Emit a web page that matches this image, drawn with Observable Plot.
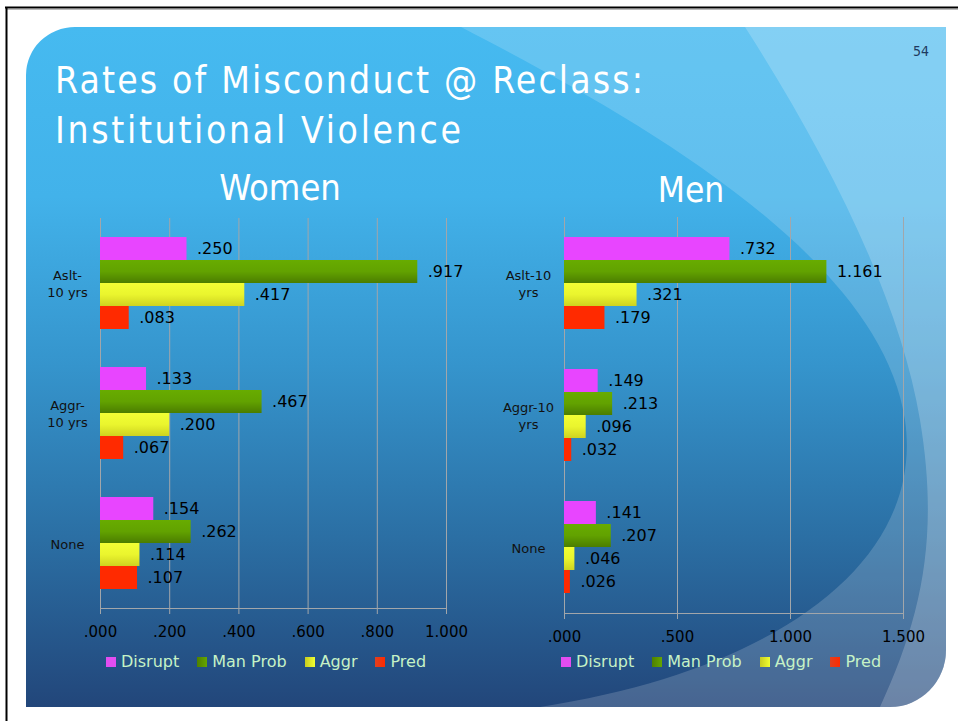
<!DOCTYPE html>
<html>
<head>
<meta charset="utf-8">
<script src="https://cdn.jsdelivr.net/npm/d3@7"></script>
<script src="https://cdn.jsdelivr.net/npm/@observablehq/plot@0.6"></script>
<style>
  html, body { margin: 0; padding: 0; background: #fff; }
  #page { position: relative; width: 958px; height: 721px; overflow: hidden; }
  #bg { position: absolute; left: 0; top: 0; }
  .chart { position: absolute; top: 200px; }
  .legend { position: absolute; top: 652px; display: flex; align-items: center; gap: 18px;
            font-family: "DejaVu Sans", sans-serif; font-size: 16px; color: #C6F2C6; white-space: nowrap; }
  .legend .item { display: flex; align-items: center; }
  .legend .sw { width: 10px; height: 10px; margin-right: 5px; }
</style>
</head>
<body>
<div id="page">
  <svg id="bg" width="958" height="721">
    <defs>
      <linearGradient id="slideGrad" x1="0" y1="0" x2="0" y2="1">
        <stop offset="0" stop-color="#46BAF0"/>
        <stop offset="0.25" stop-color="#42B2EA"/>
        <stop offset="0.5" stop-color="#3594CC"/>
        <stop offset="0.75" stop-color="#2B6FA4"/>
        <stop offset="1" stop-color="#22467A"/>
      </linearGradient>
      <linearGradient id="gradGreen" x1="0" y1="0" x2="0" y2="1">
        <stop offset="0" stop-color="#68AC00"/>
        <stop offset="0.5" stop-color="#62A200"/>
        <stop offset="1" stop-color="#4B7D00"/>
      </linearGradient>
      <linearGradient id="gradYellow" x1="0" y1="0" x2="0" y2="1">
        <stop offset="0" stop-color="#F2FF34"/>
        <stop offset="0.5" stop-color="#EAF52E"/>
        <stop offset="1" stop-color="#CFD320"/>
      </linearGradient>
      <clipPath id="slideClip">
        <path d="M26,75 A49,48 0 0 1 75,27 L946,27 L946,650 A56,57 0 0 1 890,707 L26,707 Z"/>
      </clipPath>
    </defs>
    <rect width="958" height="721" fill="#ffffff"/>
    <line x1="5" y1="7.5" x2="958" y2="7.5" stroke="#000" stroke-width="2"/>
    <line x1="7" y1="9.5" x2="958" y2="9.5" stroke="#bbb" stroke-width="1"/>
    <line x1="6.5" y1="7" x2="6.5" y2="721" stroke="#000" stroke-width="2"/>
    <g clip-path="url(#slideClip)">
      <rect x="26" y="27" width="920" height="680" fill="url(#slideGrad)"/>
      <path d="M461,27 C620,110 880,250 905,420 C925,560 780,670 540,707 L946,707 L946,27 Z" fill="#ffffff" fill-opacity="0.17"/>
      <path d="M745,27 C830,160 900,300 920,420 C940,540 920,620 880,707 L946,707 L946,27 Z" fill="#ffffff" fill-opacity="0.2"/>
    </g>
    <g font-family="'DejaVu Sans Condensed', 'DejaVu Sans', sans-serif" style="font-stretch: condensed" fill="#ffffff">
      <text x="55" y="93" font-size="37" textLength="588" lengthAdjust="spacing">Rates of Misconduct @ Reclass:</text>
      <text x="55" y="143" font-size="37" textLength="406" lengthAdjust="spacing">Institutional Violence</text>
      <text x="280" y="200" font-size="36" text-anchor="middle">Women</text>
      <text x="691" y="202" font-size="35" text-anchor="middle">Men</text>
      <text x="921" y="56" font-size="14" text-anchor="middle" fill="#1E3A5F">54</text>
    </g>
  </svg>
  <div id="women" class="chart" style="left:0px"></div>
  <div id="men" class="chart" style="left:470px"></div>
  <div id="legendWomen" class="legend" style="left:106px"></div>
  <div id="legendMen" class="legend" style="left:561px"></div>
</div>
<script>
// ---- data ----
const series = ["Disrupt", "Man Prob", "Aggr", "Pred"];
const womenCategories = ["Aslt-\n10 yrs", "Aggr-\n10 yrs", "None"];
const menCategories = ["Aslt-10\nyrs", "Aggr-10\nyrs", "None"];

const womenDisrupt = [0.250, 0.133, 0.154];
const womenManProb = [0.917, 0.467, 0.262];
const womenAggr    = [0.417, 0.200, 0.114];
const womenPred    = [0.083, 0.067, 0.107];

const menDisrupt = [0.732, 0.149, 0.141];
const menManProb = [1.161, 0.213, 0.207];
const menAggr    = [0.321, 0.096, 0.046];
const menPred    = [0.179, 0.032, 0.026];

const womenTicks = [0, 0.2, 0.4, 0.6, 0.8, 1.0];
const menTicks = [0, 0.5, 1.0, 1.5];

const seriesColors = ["#E845FF", "url(#gradGreen)", "url(#gradYellow)", "#FF2A00"];
const legendSwatches = ["#E24DF0", "linear-gradient(90deg,#4E8000,#66A600)", "linear-gradient(90deg,#C8CC20,#F0FF30)", "linear-gradient(90deg,#E04020,#FF2A00)"];

// ---- helpers ----
const fmt = v => d3.format(".3f")(v).replace(/^0\./, ".");
function rows(categories, cols) {
  const out = [];
  categories.forEach((c, i) => {
    series.forEach((s, j) => out.push({cat: c, series: s, value: cols[j][i]}));
  });
  return out;
}

function chart({data, categories, ticks, width, height, marginLeft, marginRight, marginTop, marginBottom, labelPad}) {
  const grid = "#A2A6AA";
  return Plot.plot({
    width, height, marginLeft, marginRight, marginTop, marginBottom,
    style: {background: "transparent", overflow: "visible", fontFamily: "'DejaVu Sans', sans-serif", color: "#000"},
    x: {domain: [ticks[0], ticks[ticks.length - 1]], label: null},
    y: {domain: series, axis: null, paddingInner: 0, paddingOuter: 0.77},
    fy: {domain: categories, padding: 0, label: null},
    color: {domain: series, range: seriesColors},
    marks: [
      Plot.gridX(ticks, {stroke: grid, strokeOpacity: 1, strokeWidth: 1}),
      Plot.barX(data, {x: "value", y: "series", fy: "cat", fill: "series"}),
      Plot.text(data, {x: "value", y: "series", fy: "cat", text: d => fmt(d.value),
        textAnchor: "start", dx: 10, fontSize: 16, fill: "#000"}),
      Plot.frame({anchor: "bottom", facetAnchor: "bottom", stroke: grid}),
      Plot.axisX(ticks, {tickFormat: fmt, tickSize: 6, tickPadding: 12, fontSize: 15,
        stroke: grid, fill: "#000", label: null}),
      Plot.axisFy({anchor: "left", tickSize: 0, tickPadding: labelPad, textAnchor: "middle",
        fontSize: 13, lineHeight: 1.3, fill: "#111", label: null})
    ]
  });
}

document.getElementById("women").append(chart({
  data: rows(womenCategories, [womenDisrupt, womenManProb, womenAggr, womenPred]),
  categories: womenCategories, ticks: womenTicks,
  width: 470, height: 460, marginLeft: 100, marginRight: 24, marginTop: 18, marginBottom: 52, labelPad: 33
}));
document.getElementById("men").append(chart({
  data: rows(menCategories, [menDisrupt, menManProb, menAggr, menPred]),
  categories: menCategories, ticks: menTicks,
  width: 488, height: 460, marginLeft: 94, marginRight: 55, marginTop: 17, marginBottom: 47, labelPad: 36
}));

function legend(el) {
  series.forEach((s, i) => {
    const item = document.createElement("div");
    item.className = "item";
    const sw = document.createElement("div");
    sw.className = "sw";
    sw.style.background = legendSwatches[i];
    const t = document.createElement("span");
    t.textContent = s;
    item.append(sw, t);
    el.append(item);
  });
}
legend(document.getElementById("legendWomen"));
legend(document.getElementById("legendMen"));
</script>
</body>
</html>
